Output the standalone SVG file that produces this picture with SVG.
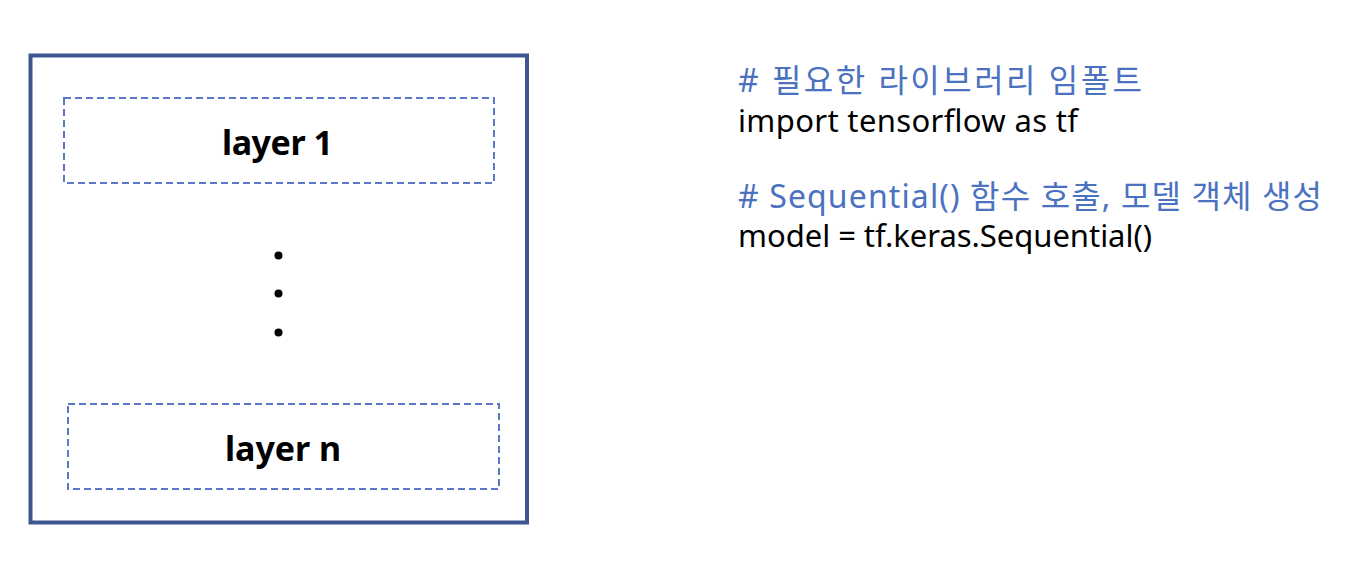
<svg xmlns="http://www.w3.org/2000/svg" width="1365" height="569" viewBox="0 0 1365 569">
<style>
.outer{fill:none;stroke:#3F5591;stroke-width:4}
.dash{fill:none;stroke:#5B78C6;stroke-width:2;stroke-dasharray:7 4}
.lbl{font-family:"Noto Sans","Noto Sans CJK KR",sans-serif;font-weight:bold;font-size:34px;fill:#000}
.code{font-family:"Noto Sans","Noto Sans CJK KR",sans-serif;font-size:31px;fill:#000}
.cmt{fill:#4A72C0;font-size:32px}
</style>
<rect width="1365" height="569" fill="#fff"/>
<g id="model">
<rect class="outer" x="30.5" y="55.5" width="496.5" height="467"/>
</g>
<g id="layer1">
<rect class="dash" x="64" y="98" width="430" height="85"/>
<text class="lbl" x="222" y="155" textLength="111">layer 1</text>
</g>
<g id="ellipsis">
<circle cx="278.5" cy="255.5" r="4"/>
<circle cx="278.5" cy="293.5" r="4"/>
<circle cx="278.5" cy="332.5" r="4"/>
</g>
<g id="layern">
<rect class="dash" x="68" y="404" width="431" height="85"/>
<text class="lbl" x="225" y="461" textLength="116">layer n</text>
</g>
<g id="code">
<text class="code cmt" x="738" y="92" textLength="404">#&#160;필요한 라이브러리 임폴트</text>
<text class="code" x="738" y="132" textLength="340">import tensorflow as tf</text>
<text class="code cmt" x="738" y="208" textLength="584">#&#160;Sequential() 함수 호출, 모델 객체 생성</text>
<text class="code" x="738" y="247" textLength="414">model = tf.keras.Sequential()</text>
</g>
<g id="connectors"></g>
</svg>
